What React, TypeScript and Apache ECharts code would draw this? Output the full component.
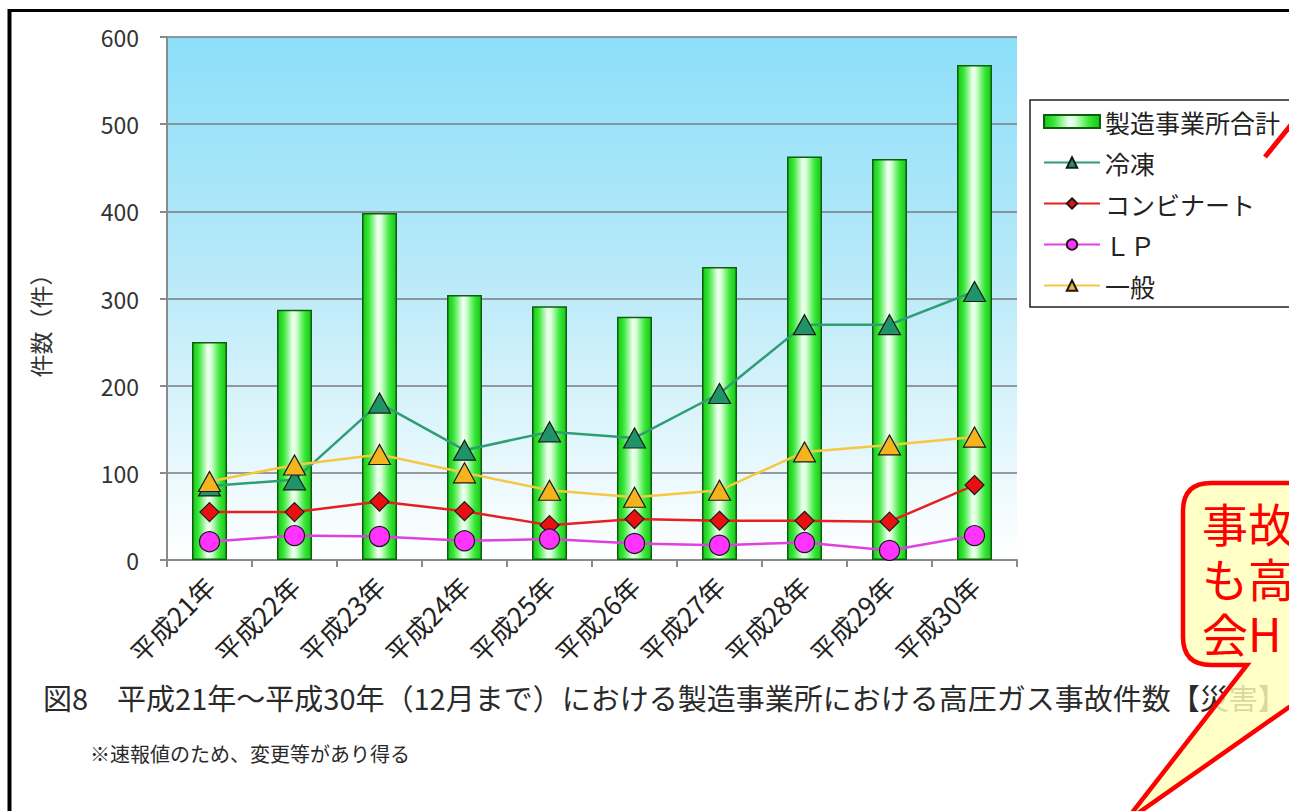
import React, { useEffect, useRef } from 'react';
import * as echarts from 'echarts';

const categories = ['平成21年', '平成22年', '平成23年', '平成24年', '平成25年', '平成26年', '平成27年', '平成28年', '平成29年', '平成30年'];
const totalValues = [250, 287, 398, 304, 291, 279, 336, 463, 460, 568];
const reitouValues = [85, 92, 180, 126, 147, 140, 191, 270, 270, 308];
const kombinatValues = [55, 55, 67, 56, 40, 47, 45, 45, 44, 86];
const lpValues = [21, 28, 27, 22, 24, 19, 17, 20, 11, 28];
const ippanValues = [90, 109, 121, 100, 80, 72, 80, 124, 132, 141];

const seriesNames = ['製造事業所合計', '冷凍', 'コンビナート', 'ＬＰ', '一般'];
const yAxisTitle = '件数（件）';
const captionText = '図8　平成21年～平成30年（12月まで）における製造事業所における高圧ガス事故件数【災害】';
const noteText = '※速報値のため、変更等があり得る';
const calloutLines = ['事故', 'も高', '会H'];

const FONT = '"Noto Sans CJK JP", "Noto Sans", sans-serif';

const calloutPath =
  'M1211,483 L1360,483 L1360,665 L1349,665 L1124,823 L1247,665 L1211,665 Q1183,665 1183,637 L1183,511 Q1183,483 1211,483 Z';

let registered = false;

export default function App() {
  const ref = useRef<HTMLDivElement>(null);

  useEffect(() => {
    if (!ref.current) return;
    if (!registered) {
      echarts.graphic.registerShape('callout', echarts.graphic.extendPath(calloutPath, {}));
      registered = true;
    }
    const chart = echarts.init(ref.current, null, { renderer: 'svg' });

    const barGradient = new echarts.graphic.LinearGradient(0, 0, 1, 0, [
      { offset: 0, color: '#17c417' },
      { offset: 0.18, color: '#3ae83a' },
      { offset: 0.45, color: '#f2fff2' },
      { offset: 0.55, color: '#d8ffd8' },
      { offset: 0.8, color: '#3ae83a' },
      { offset: 1, color: '#17c417' },
    ]);

    const bgGradient = new echarts.graphic.LinearGradient(0, 0, 0, 1, [
      { offset: 0, color: '#8cdff9' },
      { offset: 0.45, color: '#b8e9f9' },
      { offset: 1, color: '#ffffff' },
    ]);

    const lineSeries = (
      name: string,
      data: number[],
      symbol: string,
      symbolSize: number | number[],
      lineColor: string,
      fill: string,
      z: number
    ) => ({
      name,
      type: 'line',
      data,
      symbol,
      symbolSize,
      z,
      lineStyle: { color: lineColor, width: 2.5 },
      itemStyle: { color: fill, borderColor: '#1a1a1a', borderWidth: 1.2 },
      emphasis: { disabled: true },
    });

    const option: any = {
      animation: false,
      textStyle: { fontFamily: FONT },
      grid: {
        left: 167,
        right: 272,
        top: 37,
        bottom: 251,
        show: true,
        backgroundColor: bgGradient,
        borderWidth: 0,
      },
      legend: {
        left: 1030,
        top: 100,
        orient: 'vertical',
        backgroundColor: '#ffffff',
        borderColor: '#222222',
        borderWidth: 1.5,
        borderRadius: 0,
        padding: [9, 60, 9, 13],
        itemGap: 16,
        itemWidth: 56,
        itemHeight: 13,
        selectedMode: false,
        textStyle: { fontSize: 25, color: '#222', fontFamily: FONT },
        data: [
          { name: seriesNames[0], icon: 'rect' },
          seriesNames[1],
          seriesNames[2],
          seriesNames[3],
          seriesNames[4],
        ],
      },
      xAxis: {
        type: 'category',
        data: categories,
        axisLine: { lineStyle: { color: '#8a8a8a', width: 2 } },
        axisTick: { show: true, length: 7, lineStyle: { color: '#8a8a8a', width: 2 } },
        axisLabel: { rotate: 45, fontSize: 26, color: '#222', margin: 21, fontFamily: FONT },
      },
      yAxis: {
        type: 'value',
        min: 0,
        max: 600,
        interval: 100,
        axisLine: { show: true, lineStyle: { color: '#8a8a8a', width: 2 } },
        axisTick: { show: true, length: 7, lineStyle: { color: '#8a8a8a', width: 2 } },
        splitLine: { lineStyle: { color: '#7a7a7a', width: 1.5 } },
        axisLabel: { fontSize: 23, color: '#333', margin: 28, fontFamily: FONT },
      },
      series: [
        {
          name: seriesNames[0],
          type: 'bar',
          data: totalValues,
          barWidth: 35,
          z: 2,
          itemStyle: { color: barGradient, borderColor: '#0d5e0d', borderWidth: 1.5 },
          emphasis: { disabled: true },
        },
        lineSeries(seriesNames[1], reitouValues, 'triangle', [22, 20], '#2f9e74', '#1f9468', 3),
        lineSeries(seriesNames[2], kombinatValues, 'diamond', [19, 19], '#e42020', '#e81010', 3),
        lineSeries(seriesNames[3], lpValues, 'circle', 20, '#e040e0', '#ff33ff', 3),
        lineSeries(seriesNames[4], ippanValues, 'triangle', [22, 20], '#f5c842', '#f5b41e', 4),
      ],
      graphic: [
        {
          type: 'line',
          z: 50,
          shape: { x1: 8, y1: 10.5, x2: 1289, y2: 10.5 },
          style: { stroke: '#000', lineWidth: 3 },
        },
        {
          type: 'line',
          z: 50,
          shape: { x1: 9.5, y1: 9, x2: 9.5, y2: 811 },
          style: { stroke: '#000', lineWidth: 4 },
        },
        {
          type: 'line',
          z: 50,
          shape: { x1: 1265, y1: 157, x2: 1295, y2: 120 },
          style: { stroke: '#ff0000', lineWidth: 5 },
        },
        {
          type: 'text',
          z: 50,
          x: 40,
          y: 320,
          rotation: Math.PI / 2,
          style: {
            text: yAxisTitle,
            fontSize: 23,
            fontFamily: FONT,
            fill: '#333',
            align: 'center',
            verticalAlign: 'middle',
          },
        },
        {
          type: 'text',
          z: 50,
          x: 43,
          y: 697,
          style: {
            text: captionText,
            fontSize: 29,
            fontFamily: FONT,
            fill: '#2a2a2a',
            align: 'left',
            verticalAlign: 'middle',
          },
        },
        {
          type: 'text',
          z: 50,
          x: 90,
          y: 753,
          style: {
            text: noteText,
            fontSize: 20,
            fontFamily: FONT,
            fill: '#2a2a2a',
            align: 'left',
            verticalAlign: 'middle',
          },
        },
        {
          type: 'callout',
          z: 100,
          x: 0,
          y: 0,
          style: { fill: 'rgba(255,255,185,0.82)', stroke: '#ff0000', lineWidth: 4.5, lineJoin: 'miter' },
        },
        ...calloutLines.map((t, i) => ({
          type: 'text',
          z: 101,
          x: 1202,
          y: 522 + i * 55,
          style: {
            text: t,
            fontSize: 46,
            fontFamily: FONT,
            fill: '#ff0000',
            align: 'left',
            verticalAlign: 'middle',
          },
        })),
      ],
    };

    chart.setOption(option);
    return () => chart.dispose();
  }, []);

  return (
    <div
      ref={ref}
      style={{ position: 'fixed', left: 0, top: 0, width: 1289, height: 811, background: '#ffffff' }}
    />
  );
}
